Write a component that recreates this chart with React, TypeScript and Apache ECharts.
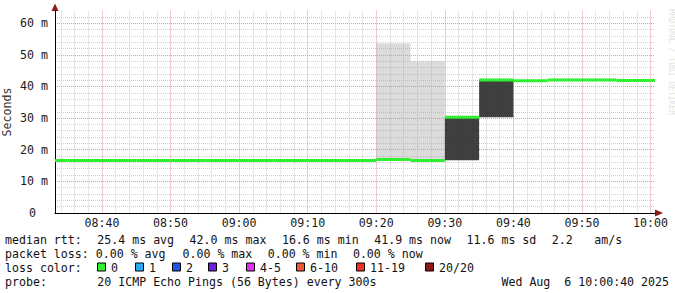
import React, { useEffect, useRef } from 'react';
import * as echarts from 'echarts';

// ---------- data ----------
const binTimes = ['08:30', '08:35', '08:40', '08:45', '08:50', '08:55', '09:00', '09:05', '09:10', '09:15', '09:20', '09:25', '09:30', '09:35', '09:40', '09:45', '09:50', '09:55', '10:00'];
const medianRtt = [16.6, 16.6, 16.6, 16.6, 16.6, 16.6, 16.6, 16.6, 16.6, 16.6, 16.9, 16.6, 30.3, 42.0, 41.8, 42.0, 42.0, 41.9, 41.9];

const smokeTimes = ['09:20', '09:25', '09:30', '09:35'];
const smokeLow = [16.9, 16.6, 16.7, 30.3];
const smokeHigh = [53.6, 48.0, 30.3, 42.0];
const smokeDense = [0, 0, 1, 1];

const rangeStart = '08:33:09';
const rangeEnd = '10:00:39';
const stepMinutes = 5;
const yMax = 64;

const statsMedian = 'median rtt:  25.4 ms avg  42.0 ms max  16.6 ms min  41.9 ms now  11.6 ms sd  2.2   am/s';
const statsLoss = 'packet loss: 0.00 % avg  0.00 % max  0.00 % min  0.00 % now';
const lossTitle = 'loss color:';
const lossLabels = ['0', '1', '2', '3', '4-5', '6-10', '11-19', '20/20'];
const lossColors = ['#2ef02e', '#2aaaf0', '#2255e0', '#6a22e0', '#e030f0', '#f05a30', '#f03020', '#8b1a1a'];
const probeTitle = 'probe:';
const probeText = '20 ICMP Echo Pings (56 Bytes) every 300s';
const stampText = 'Wed Aug\u00a0 6 10:00:40 2025';
const yTitle = 'Seconds';
const watermark = 'RRDTOOL / TOBI OETIKER';

// ---------- layout ----------
const FONT = 'DejaVu Sans Mono';
const FS = 11.6;
const COL = 7.1;
const TEXT_X = 5;
const ROW_Y = [239.5, 253.5, 267.5, 281.5];
const BOX_X = [97, 135, 172, 208, 246, 296, 356, 425];

const toMin = (s: string) => {
  const p = s.split(':').map(Number);
  return p[0] * 60 + p[1] + (p[2] || 0) / 60;
};
const fmt = (v: number) => {
  const h = Math.floor(v / 60);
  const m = Math.round(v - h * 60);
  return `${String(h).padStart(2, '0')}:${String(m).padStart(2, '0')}`;
};

const tokens = (s: string, y: number) => {
  const out: any[] = [];
  const re = /\S+(?: \S+)*/g;
  let m: RegExpExecArray | null;
  while ((m = re.exec(s))) {
    out.push({
      type: 'text', x: TEXT_X + m.index * COL, y,
      style: { text: m[0], font: `${FS}px "${FONT}"`, fill: '#111', verticalAlign: 'middle', align: 'left' },
      silent: true,
    });
  }
  return out;
};

export default function App() {
  const ref = useRef<HTMLDivElement>(null);
  useEffect(() => {
    if (!ref.current) return;
    const chart = echarts.init(ref.current, undefined, { renderer: 'svg' });

    const clampRect = (params: any, x0: number, x1: number) => {
      const cs = params.coordSys;
      const a = Math.max(x0, cs.x);
      const b = Math.min(x1, cs.x + cs.width);
      return [a, b];
    };

    const graphic: any[] = [
      // y title
      {
        type: 'text', x: 7, y: 112, rotation: Math.PI / 2,
        style: { text: yTitle, font: `${FS}px "${FONT}"`, fill: '#333', align: 'center', verticalAlign: 'middle' },
      },
      // watermark
      {
        type: 'text', x: 671, y: 62, rotation: -Math.PI / 2,
        style: { text: watermark, font: `8px "${FONT}"`, fill: '#e2e2e2', align: 'center', verticalAlign: 'middle' },
      },
      // axis arrows
      { type: 'polygon', shape: { points: [[655, 209.5], [663, 213], [655, 216.5]] }, style: { fill: '#8b1a1a' } },
      { type: 'polygon', shape: { points: [[51.5, 11], [55, 3.5], [58.5, 11]] }, style: { fill: '#8b1a1a' } },
      ...tokens(statsMedian, ROW_Y[0]),
      ...tokens(statsLoss, ROW_Y[1]),
      ...tokens(lossTitle, ROW_Y[2]),
      ...lossLabels.flatMap((lab, i) => [
        {
          type: 'rect', shape: { x: BOX_X[i] + 0.5, y: ROW_Y[2] - 4.5, width: 8, height: 8 },
          style: { fill: lossColors[i], stroke: '#000', lineWidth: 1 },
        },
        {
          type: 'text', x: BOX_X[i] + 14, y: ROW_Y[2],
          style: { text: lab, font: `${FS}px "${FONT}"`, fill: '#111', verticalAlign: 'middle', align: 'left' },
        },
      ]),
      ...tokens(probeTitle, ROW_Y[3]),
      {
        type: 'text', x: TEXT_X + 13 * COL, y: ROW_Y[3],
        style: { text: probeText, font: `${FS}px "${FONT}"`, fill: '#111', verticalAlign: 'middle', align: 'left' },
      },
      {
        type: 'text', x: 669, y: ROW_Y[3],
        style: { text: stampText, font: `${FS}px "${FONT}"`, fill: '#111', verticalAlign: 'middle', align: 'right' },
      },
    ];

    const majorColor = '#e09a9a';
    const minorColor = '#cfcfcf';

    chart.setOption({
      animation: false,
      backgroundColor: '#ffffff',
      grid: { left: 55, right: 20, top: 10.5, bottom: 80, containLabel: false, outerBoundsMode: 'none' },
      xAxis: {
        type: 'value',
        min: toMin(rangeStart),
        max: toMin(rangeEnd),
        splitNumber: 9,
        axisLine: { show: true, lineStyle: { color: '#000', width: 1 } },
        axisTick: { show: false },
        axisLabel: {
          margin: 4, fontFamily: FONT, fontSize: FS, color: '#1a1a1a',
          showMinLabel: false, showMaxLabel: false,
          formatter: (v: number) => (Math.abs(v / 10 - Math.round(v / 10)) < 1e-6 ? fmt(v) : ''),
        },
        splitLine: { show: true, showMinLine: false, showMaxLine: false, lineStyle: { color: majorColor, type: [1, 1], width: 1 } },
        minorTick: { show: false, splitNumber: 5 },
        minorSplitLine: { show: true, lineStyle: { color: minorColor, type: [1, 1], width: 1 } },
      },
      yAxis: {
        type: 'value',
        min: 0,
        max: yMax,
        interval: 10,
        axisLine: { show: true, lineStyle: { color: '#000', width: 1 } },
        axisTick: { show: false },
        axisLabel: {
          margin: 7, fontFamily: FONT, fontSize: FS, color: '#1a1a1a',
          showMaxLabel: false,
          formatter: (v: number) => (v === 0 ? '{z|0}' : `${v} m`),
          rich: { z: { padding: [0, 12, 0, 0], fontFamily: FONT, fontSize: FS, color: '#1a1a1a' } },
        },
        splitLine: { show: true, showMinLine: false, showMaxLine: false, lineStyle: { color: majorColor, type: [1, 1], width: 1 } },
        minorTick: { show: false, splitNumber: 5 },
        minorSplitLine: { show: true, lineStyle: { color: minorColor, type: [1, 1], width: 1 } },
      },
      series: [
        {
          type: 'custom',
          name: 'smoke',
          z: 2,
          encode: { x: 0, y: [1, 2] },
          data: smokeTimes.map((t, i) => [toMin(t), smokeLow[i], smokeHigh[i], smokeDense[i]]),
          renderItem: (params: any, api: any) => {
            const t = api.value(0);
            const a = api.coord([t, api.value(2)]);
            const b = api.coord([t + stepMinutes, api.value(1)]);
            const [x0, x1] = clampRect(params, a[0], b[0]);
            return {
              type: 'rect',
              shape: { x: x0, y: a[1], width: x1 - x0, height: b[1] - a[1] },
              style: { fill: api.value(3) ? 'rgba(38,38,38,0.88)' : 'rgba(160,160,160,0.38)' },
            };
          },
        },
        {
          type: 'custom',
          name: 'median',
          z: 3,
          encode: { x: 0, y: 1 },
          data: binTimes.map((t, i) => [toMin(t), medianRtt[i]]),
          renderItem: (params: any, api: any) => {
            const t = api.value(0);
            const a = api.coord([t, api.value(1)]);
            const b = api.coord([t + stepMinutes, api.value(1)]);
            const [x0, x1] = clampRect(params, a[0], b[0]);
            return {
              type: 'rect',
              shape: { x: x0, y: a[1] - 1.5, width: x1 - x0, height: 3 },
              style: { fill: lossColors[0] },
            };
          },
        },
      ],
      graphic,
    });
    return () => chart.dispose();
  }, []);
  return <div ref={ref} style={{ width: 675, height: 293, position: 'absolute', left: 0, top: 0 }} />;
}
